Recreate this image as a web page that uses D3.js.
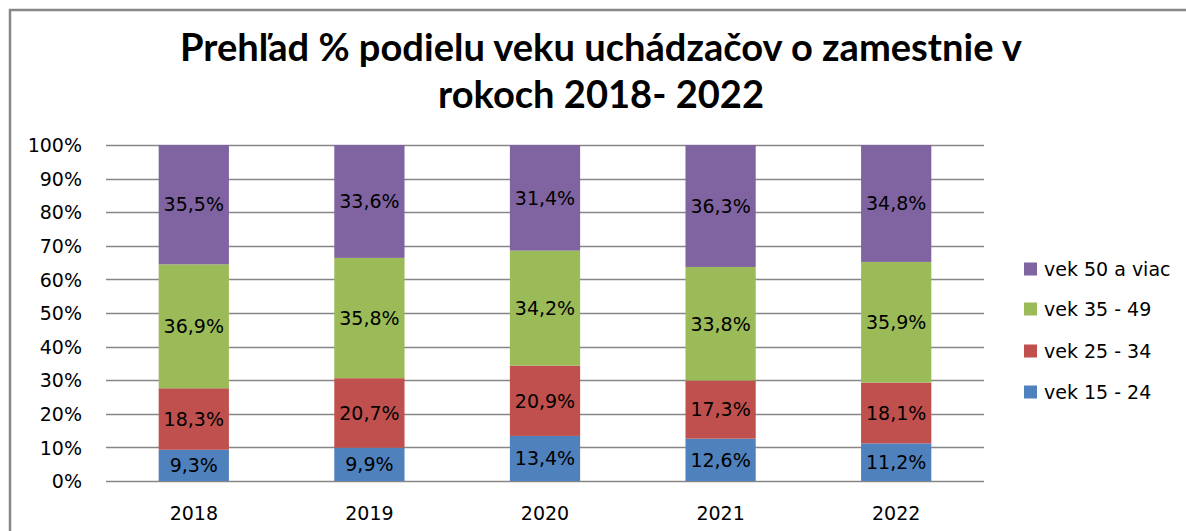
<!DOCTYPE html>
<html>
<head>
<meta charset="utf-8">
<script src="https://cdn.jsdelivr.net/npm/d3@7"></script>
<style>
  html, body { margin: 0; padding: 0; background: #fff; }
  svg { display: block; }
</style>
</head>
<body>
<svg id="chart" width="1186" height="531"></svg>
<script>
const years = ["2018", "2019", "2020", "2021", "2022"];
const seriesNames = ["vek 15 - 24", "vek 25 - 34", "vek 35 - 49", "vek 50 a viac"];
const age15_24 = [9.3, 9.9, 13.4, 12.6, 11.2];
const age25_34 = [18.3, 20.7, 20.9, 17.3, 18.1];
const age35_49 = [36.9, 35.8, 34.2, 33.8, 35.9];
const age50plus = [35.5, 33.6, 31.4, 36.3, 34.8];
const colors = ["#4F81BD", "#C0504D", "#9BBB59", "#8064A2"];
const yTicks = [0, 0.1, 0.2, 0.3, 0.4, 0.5, 0.6, 0.7, 0.8, 0.9, 1.0];
const titleLines = ["Prehľad % podielu veku uchádzačov o zamestnie v", "rokoch 2018- 2022"];

const seriesValues = [age15_24, age25_34, age35_49, age50plus];
const rows = years.map((y, i) => {
  const r = { year: y };
  seriesNames.forEach((s, k) => r[s] = seriesValues[k][i]);
  return r;
});

const svg = d3.select("#chart");
const font = "'DejaVu Sans', Verdana, sans-serif";

// frame
svg.append("rect").attr("x", 10).attr("y", 10).attr("width", 1200).attr("height", 600)
  .attr("fill", "#fff").attr("stroke", "#878787").attr("stroke-width", 2.5);

const plot = { left: 106, right: 984, top: 145, bottom: 481 };

const x = d3.scaleBand().domain(years).range([plot.left, plot.right]).paddingInner(0.6).paddingOuter(0.3);
const y = d3.scaleLinear().domain([0, 1]).range([plot.bottom, plot.top]);

const stack = d3.stack().keys(seriesNames).offset(d3.stackOffsetExpand);
const stacked = stack(rows);

// gridlines
const yAxis = d3.axisLeft(y).tickValues(yTicks).tickFormat(d3.format(".0%")).tickSize(0).tickPadding(0);
const gAxis = svg.append("g").attr("transform", `translate(${plot.left},0)`).call(yAxis);
gAxis.select(".domain").remove();
gAxis.selectAll("text").attr("x", -24).attr("dy", "0.35em")
  .style("font-family", font).style("font-size", "19px").attr("fill", "#000");

svg.append("g").selectAll("line").data(yTicks).join("line")
  .attr("x1", plot.left).attr("x2", plot.right)
  .attr("y1", d => Math.round(y(d)) + 0.5).attr("y2", d => Math.round(y(d)) + 0.5)
  .attr("stroke", "#868686").attr("stroke-width", 1.6);

// bars
const layers = svg.append("g").selectAll("g").data(stacked).join("g")
  .attr("fill", (d, i) => colors[i]);
layers.selectAll("rect").data(d => d).join("rect")
  .attr("x", d => x(d.data.year))
  .attr("width", x.bandwidth())
  .attr("y", d => y(d[1]))
  .attr("height", d => y(d[0]) - y(d[1]));

// labels
const fmt = v => v.toFixed(1).replace(".", ",") + "%";
stacked.forEach((layer, k) => {
  svg.append("g").selectAll("text").data(layer).join("text")
    .attr("x", d => x(d.data.year) + x.bandwidth() / 2)
    .attr("y", d => (y(d[0]) + y(d[1])) / 2)
    .attr("dy", "0.36em")
    .attr("text-anchor", "middle")
    .style("font-family", font).style("font-size", "19px").attr("fill", "#000")
    .text(d => fmt(seriesValues[k][years.indexOf(d.data.year)]));
});

// x axis labels
const xAxis = d3.axisBottom(x).tickSize(0).tickPadding(0);
const gx = svg.append("g").attr("transform", `translate(0,${plot.bottom})`).call(xAxis);
gx.select(".domain").remove();
gx.selectAll("text").attr("y", 39).attr("dy", 0)
  .style("font-family", font).style("font-size", "19px").attr("fill", "#000");

// title
const titleG = svg.append("g");
const t1 = titleG.append("text").attr("x", 601).attr("y", 61).attr("text-anchor", "middle")
  .style("font-family", "Lato, 'Open Sans', sans-serif").style("font-weight", "bold")
  .style("font-size", "32px").attr("fill", "#000").text(titleLines[0]);
const w = t1.node().getComputedTextLength();
const fs = 32 * 842 / w;
t1.style("font-size", fs + "px");
titleG.append("text").attr("x", 601).attr("y", 108).attr("text-anchor", "middle")
  .style("font-family", "Lato, 'Open Sans', sans-serif").style("font-weight", "bold")
  .style("font-size", fs + "px").attr("fill", "#000").text(titleLines[1]);

// legend
const legendOrder = [3, 2, 1, 0];
const legendY = [269, 309, 351, 392];
const lg = svg.append("g");
legendOrder.forEach((k, i) => {
  lg.append("rect").attr("x", 1024).attr("y", legendY[i] - 6.5).attr("width", 13).attr("height", 13)
    .attr("fill", colors[k]);
  lg.append("text").attr("x", 1044).attr("y", legendY[i]).attr("dy", "0.36em")
    .style("font-family", font).style("font-size", "19px").attr("fill", "#000")
    .text(seriesNames[k]);
});
</script>
</body>
</html>
